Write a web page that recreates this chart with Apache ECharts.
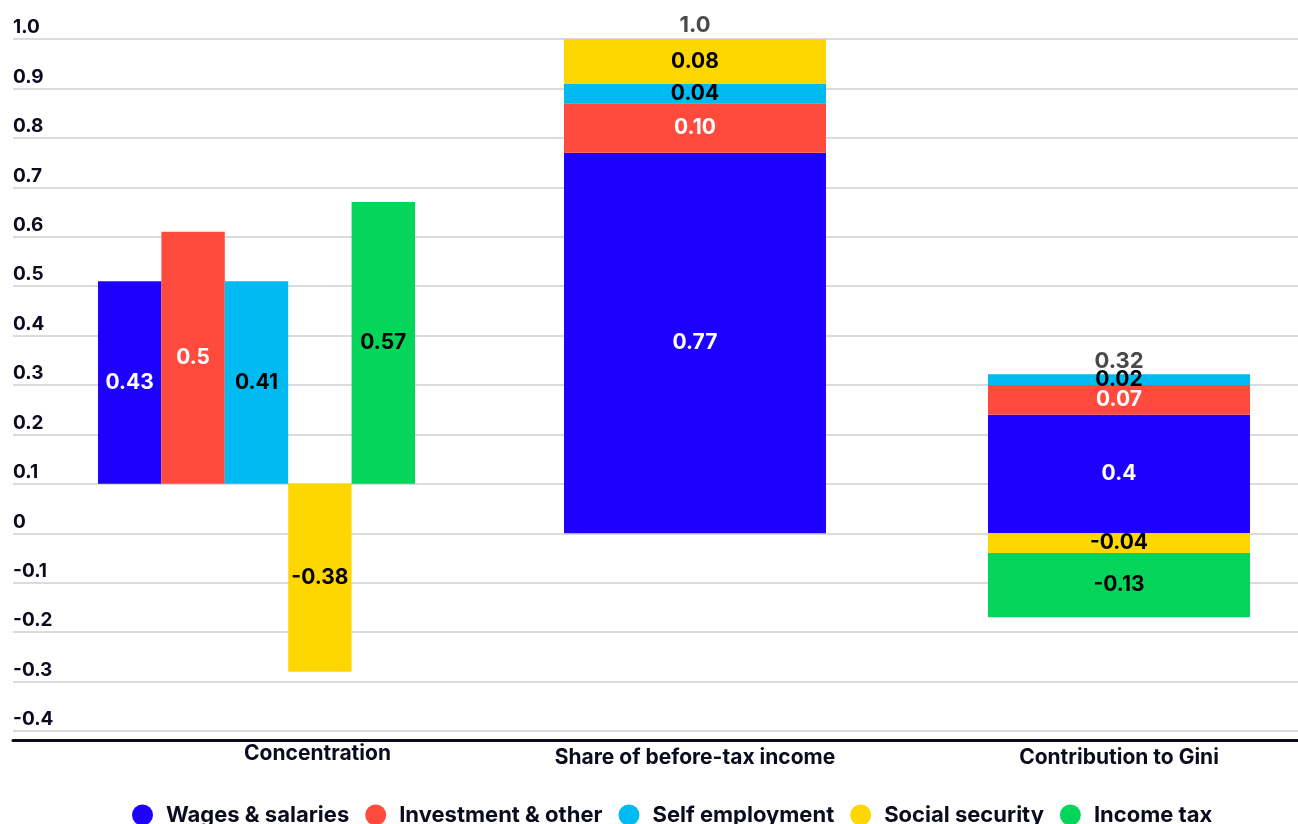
<!DOCTYPE html>
<html>
<head>
<meta charset="utf-8">
<script src="https://cdn.jsdelivr.net/npm/echarts@6/dist/echarts.min.js"></script>
<style>
html, body { margin: 0; padding: 0; background: #fff; }
#chart { width: 1298px; height: 824px; }
</style>
</head>
<body>
<div id="chart"></div>
<script>
// 数据
var seriesNames = ['Wages & salaries', 'Investment & other', 'Self employment', 'Social security', 'Income tax'];
var groupNames = ['Concentration', 'Share of before-tax income', 'Contribution to Gini'];
var yTickLabels = ['-0.4', '-0.3', '-0.2', '-0.1', '0', '0.1', '0.2', '0.3', '0.4', '0.5', '0.6', '0.7', '0.8', '0.9', '1.0'];

var concBase = 0.1;
var concValues = [0.41, 0.51, 0.41, -0.38, 0.57];
var concLabels = ['0.43', '0.5', '0.41', '-0.38', '0.57'];

var shareValues = [0.77, 0.10, 0.04, 0.09];
var shareLabels = ['0.77', '0.10', '0.04', '0.08'];
var shareTotal = 1.0;
var shareTotalLabel = '1.0';

var giniValues = [0.24, 0.06, 0.022, -0.04, -0.13];
var giniLabels = ['0.4', '0.07', '0.02', '-0.04', '-0.13'];
var giniTotal = 0.32;
var giniTotalLabel = '0.32';

// 样式
var colors = ['#1e00ff', '#ff4b3e', '#00baf2', '#ffd700', '#05d55a'];
var labelColors = ['#ffffff', '#ffffff', '#000000', '#000000', '#000000'];
var font = 'Inter, sans-serif';
var ink = '#0b0b1e';

var chart = echarts.init(document.getElementById('chart'));

function barLabel(text, i)
{
	return {
		show: true,
		position: 'inside',
		formatter: text,
		color: labelColors[i],
		fontFamily: font,
		fontSize: 21,
		fontWeight: 'bold'
	};
}

function totalSeries(axisIndex, value, text)
{
	return {
		type: 'scatter',
		xAxisIndex: axisIndex,
		yAxisIndex: axisIndex,
		symbolSize: 1,
		silent: true,
		itemStyle: { color: 'rgba(0,0,0,0)', opacity: 1 },
		data: [value],
		label: {
			show: true,
			position: 'top',
			distance: 2,
			formatter: text,
			color: '#4a4a4a',
			fontFamily: font,
			fontSize: 22,
			fontWeight: 'bold'
		}
	};
}

function hiddenY(gridIndex)
{
	return { gridIndex: gridIndex, type: 'value', min: -0.4, max: 1.0, interval: 0.1, show: false };
}

function groupX(gridIndex, name, margin, padding)
{
	return {
		gridIndex: gridIndex,
		type: 'category',
		data: [name],
		axisLine: { show: false },
		axisTick: { show: false },
		axisLabel: {
			margin: margin,
			color: ink,
			fontFamily: font,
			fontSize: 21,
			fontWeight: 'bold',
			padding: padding
		}
	};
}

var series = [];

// Concentration：五个并列柱，从 0.1 起
for (var i = 0; i < concValues.length; i++)
{
	series.push({
		type: 'bar', xAxisIndex: 1, yAxisIndex: 1,
		stack: 'c' + i, stackStrategy: 'all',
		barWidth: 63.4, barGap: '0%',
		silent: true,
		itemStyle: { color: 'rgba(0,0,0,0)' },
		data: [concBase]
	});
	series.push({
		name: seriesNames[i],
		type: 'bar', xAxisIndex: 1, yAxisIndex: 1,
		stack: 'c' + i, stackStrategy: 'all',
		barWidth: 63.4, barGap: '0%',
		itemStyle: { color: colors[i] },
		label: barLabel(concLabels[i], i),
		data: [concValues[i]]
	});
}

// Share of before-tax income：堆叠
for (var j = 0; j < shareValues.length; j++)
{
	series.push({
		name: seriesNames[j],
		type: 'bar', xAxisIndex: 2, yAxisIndex: 2,
		stack: 'share', barWidth: '100%',
		itemStyle: { color: colors[j] },
		label: barLabel(shareLabels[j], j),
		data: [shareValues[j]]
	});
}
series.push(totalSeries(2, shareTotal, shareTotalLabel));

// Contribution to Gini：堆叠
for (var k = 0; k < giniValues.length; k++)
{
	series.push({
		name: seriesNames[k],
		type: 'bar', xAxisIndex: 3, yAxisIndex: 3,
		stack: 'gini', barWidth: '100%',
		itemStyle: { color: colors[k] },
		label: barLabel(giniLabels[k], k),
		data: [giniValues[k]]
	});
}
series.push(totalSeries(3, giniTotal, giniTotalLabel));

var options =
{
	animation: false,
	backgroundColor: '#ffffff',
	grid: [
		{ left: 13, right: 0, top: 39, bottom: 93 },
		{ left: 98, width: 317, top: 39, bottom: 93 },
		{ left: 564, width: 262, top: 39, bottom: 93 },
		{ left: 988, width: 262, top: 39, bottom: 93 }
	],
	xAxis: [
		{
			gridIndex: 0,
			type: 'category',
			data: [''],
			offset: 9,
			axisLine: { show: true, onZero: false, lineStyle: { color: ink, width: 3 } },
			axisTick: { show: false },
			axisLabel: { show: false }
		},
		groupX(1, groupNames[0], 12, [0, 0, 0, 122]),
		groupX(2, groupNames[1], 16, 0),
		groupX(3, groupNames[2], 16, 0)
	],
	yAxis: [
		{
			gridIndex: 0,
			type: 'value',
			min: -0.4,
			max: 1.0,
			interval: 0.1,
			axisLine: { show: false },
			axisTick: { show: false },
			axisLabel: {
				inside: true,
				margin: 0,
				verticalAlign: 'bottom',
				padding: [0, 0, 2, 0],
				color: ink,
				fontFamily: font,
				fontSize: 19,
				fontWeight: 'bold',
				formatter: function(v)
				{
					return yTickLabels[Math.round((v + 0.4) * 10)];
				}
			},
			splitLine: { show: true, lineStyle: { color: '#cfcfd4', width: 1.5 } }
		},
		hiddenY(1),
		hiddenY(2),
		hiddenY(3)
	],
	legend: {
		data: seriesNames,
		left: 127,
		top: 799,
		icon: 'circle',
		itemWidth: 21,
		itemHeight: 21,
		itemGap: 16,
		textStyle: {
			color: ink,
			fontFamily: font,
			fontSize: 22,
			fontWeight: 'bold',
			padding: [0, 0, 0, 8]
		}
	},
	series: series
};

chart.setOption(options);
</script>
</body>
</html>
